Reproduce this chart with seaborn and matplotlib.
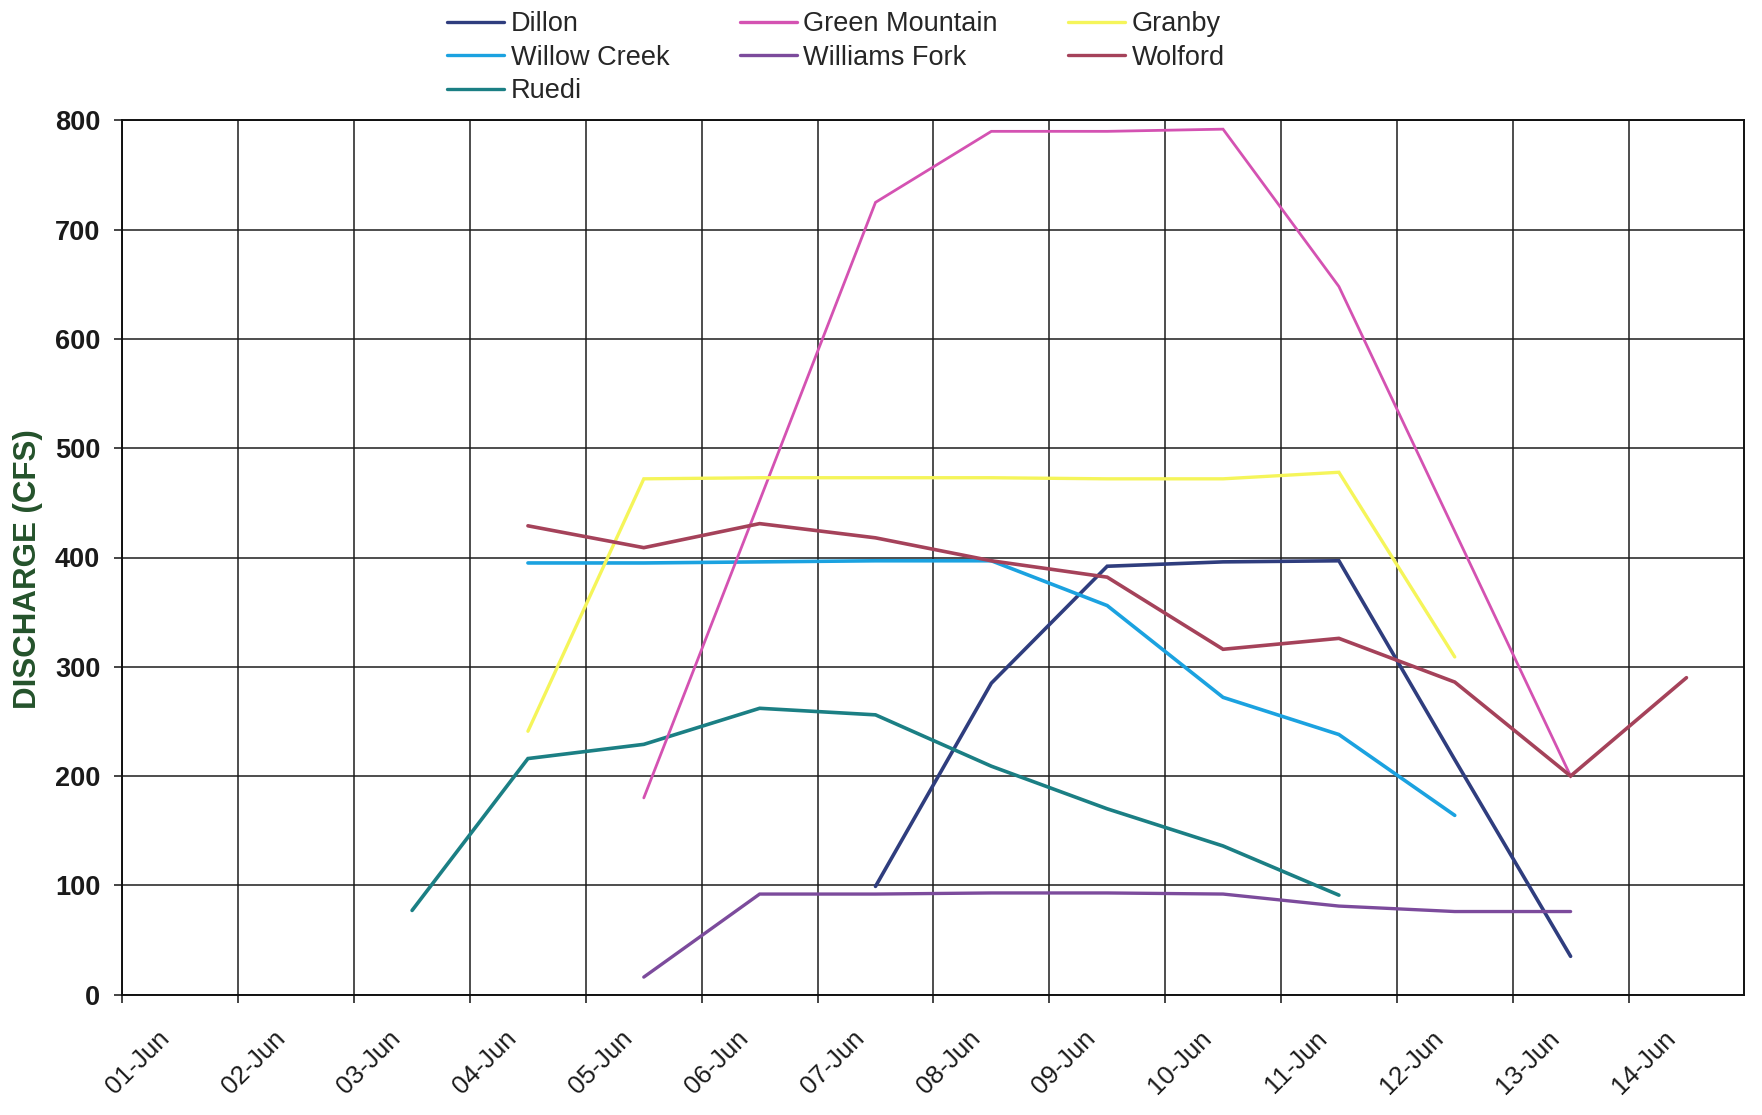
"""
Daily discharge at the reservoirs, 01-Jun to 14-Jun.
Run: python plot.py  -> out.png
"""
import matplotlib
matplotlib.use("Agg")
import matplotlib.pyplot as plt
import matplotlib.dates as mdates
from matplotlib.lines import Line2D
from matplotlib.transforms import ScaledTranslation
import seaborn as sns
import pandas as pd
import numpy as np

nan = np.nan

# one reading per day, taken around noon
DAYS = pd.date_range("2000-06-01", periods=14, freq="D")

DILLON = [nan, nan, nan, nan, nan, nan, 99, 285, 392, 396, 397, 215, 35, nan]
WILLOW_CREEK = [nan, nan, nan, 395, 395, 396, 397, 397, 356, 272, 238, 164, nan, nan]
RUEDI = [nan, nan, 77, 216, 229, 262, 256, 209, 170, 136, 91, nan, nan, nan]
GREEN_MOUNTAIN = [nan, nan, nan, nan, 180, 452, 725, 790, 790, 792, 648, 424, 200, nan]
WILLIAMS_FORK = [nan, nan, nan, nan, 16, 92, 92, 93, 93, 92, 81, 76, 76, nan]
GRANBY = [nan, nan, nan, 241, 472, 473, 473, 473, 472, 472, 478, 309, nan, nan]
WOLFORD = [nan, nan, nan, 429, 409, 431, 418, 397, 382, 316, 326, 286, 200, 290]

SITES = ["Dillon", "Willow Creek", "Ruedi", "Green Mountain",
         "Williams Fork", "Granby", "Wolford"]
COLORS = ["#2f3d7e", "#1ba2e0", "#1b7f84", "#d452b2",
          "#7c4b9c", "#f5f55a", "#a5425a"]
WIDTHS = [2.6, 2.6, 2.6, 2.0, 2.4, 2.4, 2.6]

sns.set_theme(style="white")
plt.rcParams["font.family"] = ["Liberation Sans", "DejaVu Sans"]

df = pd.DataFrame({
    "date": DAYS + pd.Timedelta(hours=12),
    "Dillon": DILLON,
    "Willow Creek": WILLOW_CREEK,
    "Ruedi": RUEDI,
    "Green Mountain": GREEN_MOUNTAIN,
    "Williams Fork": WILLIAMS_FORK,
    "Granby": GRANBY,
    "Wolford": WOLFORD,
})
long = df.melt(id_vars="date", var_name="site", value_name="cfs").dropna()

fig = plt.figure(figsize=(17.62, 11.15), dpi=100)
ax = fig.add_axes([0.0695, 0.108, 0.9205, 0.784])

sns.lineplot(data=long, x="date", y="cfs", hue="site", hue_order=SITES,
             palette=COLORS, linewidth=2.5, estimator=None, legend=False, ax=ax)
for line, w in zip(ax.lines, WIDTHS):
    line.set_linewidth(w)
    line.set_solid_joinstyle("miter")

ax.set_xlim(DAYS[0], DAYS[-1] + pd.Timedelta(days=1))
ax.set_ylim(0, 800)
ax.set_yticks(range(0, 801, 100))
ax.set_xticks(DAYS)
ax.xaxis.set_major_formatter(mdates.DateFormatter("%d-%b"))
ax.set_xlabel("")
ax.set_ylabel("")

ax.grid(True, color="#1c1c1c", linewidth=1.1)
ax.set_axisbelow(True)
for s in ax.spines.values():
    s.set_visible(True)
    s.set_color("#111111")
    s.set_linewidth(1.4)

ax.tick_params(axis="both", direction="out", length=6, width=1.1,
               color="#111111", bottom=True, left=True)
ax.tick_params(axis="y", labelsize=19.5, pad=10, labelcolor="#1a1a1a")
ax.tick_params(axis="x", labelsize=18.5, pad=17, labelcolor="#1a1a1a")
for lab in ax.get_yticklabels():
    lab.set_fontweight("bold")
shift = ScaledTranslation(0.15, 0, fig.dpi_scale_trans)
for lab in ax.get_xticklabels():
    lab.set_rotation(45)
    lab.set_ha("center")
    lab.set_transform(lab.get_transform() + shift)

fig.text(0.016, 0.49, "DISCHARGE (CFS)", rotation=90, ha="center", va="center",
         fontsize=22.5, fontweight="bold", color="#24522b")

handles = [Line2D([0], [0], color=c, linewidth=2.4) for c in COLORS]
fig.legend(handles, SITES, loc="upper left", bbox_to_anchor=(0.2537, 0.99),
           ncol=3, frameon=False, fontsize=19.5, handlelength=2.1,
           handletextpad=0.25, columnspacing=2.6, labelspacing=0.28,
           borderpad=0, borderaxespad=0)

fig.savefig("out.png", dpi=100)
plt.close(fig)
